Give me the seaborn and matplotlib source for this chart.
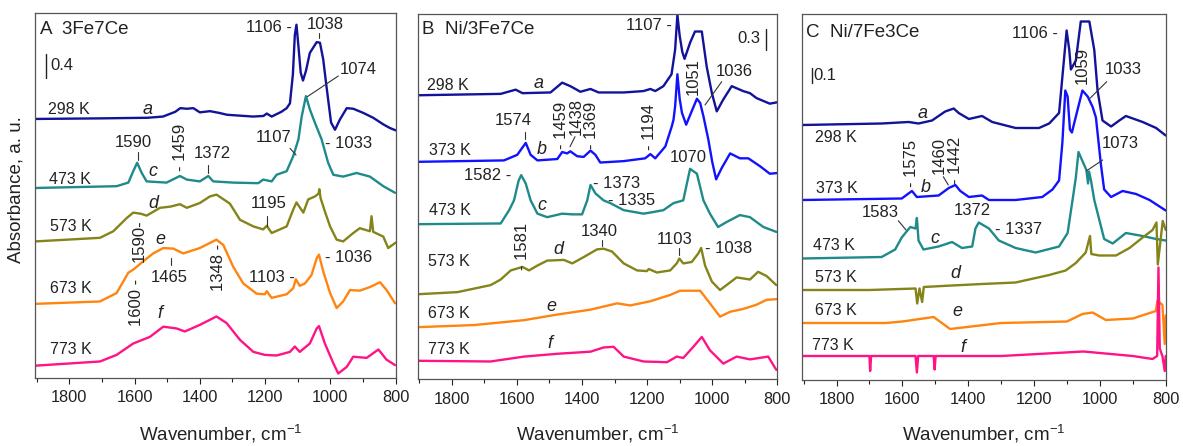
import numpy as np
import pandas as pd
import matplotlib
matplotlib.use("Agg")
import matplotlib.pyplot as plt
import seaborn as sns
from matplotlib.lines import Line2D
from matplotlib.ticker import MultipleLocator

# ---------------- data (absorbance relative to each curve's own baseline) -------------
# Panel A: 3Fe7Ce
A_a_wn = [1905, 1700, 1560, 1513, 1475, 1460, 1440, 1420, 1400, 1369, 1340, 1317, 1237, 1205, 1195, 1180, 1150, 1134, 1124, 1115, 1109, 1104, 1097, 1091, 1084, 1075, 1063, 1042, 1032, 1022, 1012, 998, 986, 971, 950, 930, 899, 869, 838, 818, 800]
A_a_abs = [0, 0.01, 0.02, 0.04, 0.12, 0.18, 0.17, 0.18, 0.11, 0.13, 0.10, 0.07, 0.04, 0.05, 0.09, 0.04, 0.12, 0.18, 0.26, 0.74, 1.40, 1.57, 1.15, 0.77, 0.64, 0.80, 1.10, 1.28, 1.27, 0.99, 0.54, -0.06, -0.18, -0.01, 0.18, 0.17, 0.10, 0.02, -0.09, -0.15, -0.19]
A_c_wn = [1905, 1655, 1619, 1604, 1592, 1578, 1563, 1502, 1461, 1440, 1400, 1374, 1359, 1298, 1221, 1206, 1180, 1165, 1134, 1114, 1098, 1088, 1075, 1063, 1047, 1027, 1007, 991, 961, 920, 879, 838, 802]
A_c_abs = [0, 0.03, 0.09, 0.28, 0.42, 0.25, 0.11, 0.09, 0.20, 0.14, 0.11, 0.20, 0.11, 0.09, 0.08, 0.14, 0.11, 0.22, 0.28, 0.53, 0.81, 1.19, 1.53, 1.31, 1.08, 0.81, 0.42, 0.22, 0.19, 0.25, 0.19, 0.03, -0.08]
A_d_wn = [1905, 1706, 1665, 1624, 1604, 1580, 1563, 1522, 1490, 1461, 1440, 1400, 1369, 1349, 1308, 1277, 1236, 1206, 1195, 1180, 1134, 1114, 1104, 1083, 1068, 1047, 1036, 1034, 1030, 1017, 1001, 981, 961, 930, 910, 879, 874, 869, 838, 823, 800]
A_d_abs = [0, 0.06, 0.17, 0.39, 0.48, 0.46, 0.43, 0.56, 0.58, 0.62, 0.56, 0.64, 0.75, 0.78, 0.63, 0.36, 0.25, 0.20, 0.26, 0.14, 0.25, 0.53, 0.65, 0.48, 0.70, 0.75, 0.80, 0.87, 0.72, 0.50, 0.25, 0.03, 0.0, 0.14, 0.22, 0.17, 0.42, 0.16, 0.08, -0.11, -0.02]
A_e_wn = [1905, 1706, 1655, 1619, 1604, 1573, 1543, 1512, 1481, 1451, 1400, 1349, 1328, 1298, 1267, 1226, 1201, 1195, 1180, 1134, 1114, 1106, 1094, 1078, 1058, 1042, 1035, 1022, 1001, 981, 961, 940, 910, 879, 848, 828, 802]
A_e_abs = [0, 0.04, 0.18, 0.52, 0.57, 0.71, 0.84, 0.93, 0.92, 0.84, 0.93, 1.07, 0.98, 0.62, 0.34, 0.17, 0.16, 0.21, 0.10, 0.16, 0.26, 0.41, 0.30, 0.34, 0.48, 0.76, 0.82, 0.54, 0.18, -0.07, 0.04, 0.23, 0.22, 0.28, 0.36, 0.23, 0.01]
A_f_wn = [1905, 1706, 1655, 1604, 1553, 1512, 1471, 1446, 1400, 1349, 1318, 1277, 1236, 1201, 1165, 1124, 1109, 1094, 1063, 1042, 1035, 1017, 991, 976, 950, 930, 889, 853, 828, 802]
A_f_abs = [0, 0.07, 0.18, 0.37, 0.48, 0.65, 0.62, 0.57, 0.68, 0.82, 0.71, 0.43, 0.23, 0.18, 0.17, 0.23, 0.32, 0.23, 0.37, 0.62, 0.66, 0.37, 0.04, -0.13, -0.02, 0.15, 0.13, 0.27, 0.10, 0.01]
A_offsets = [4.31, 3.16, 2.27, 1.23, 0.20]

# Panel B: Ni/3Fe7Ce
B_a_wn = [1905, 1650, 1604, 1583, 1497, 1461, 1436, 1405, 1374, 1349, 1272, 1211, 1190, 1175, 1150, 1125, 1114, 1107, 1100, 1092, 1085, 1068, 1053, 1032, 1017, 1001, 986, 966, 940, 905, 884, 864, 823, 800]
B_a_abs = [0, 0.02, 0.08, 0.03, 0.04, 0.18, 0.13, 0.05, 0.09, 0.04, 0.04, 0.06, 0.09, 0.06, 0.13, 0.30, 0.65, 1.15, 0.85, 0.62, 0.52, 0.75, 0.91, 0.91, 0.41, 0.03, -0.23, -0.06, 0.13, 0.06, 0.03, -0.04, -0.12, -0.10]
B_b_wn = [1905, 1640, 1599, 1573, 1558, 1537, 1476, 1461, 1446, 1436, 1415, 1395, 1374, 1359, 1344, 1272, 1206, 1190, 1175, 1144, 1124, 1119, 1114, 1107, 1100, 1093, 1080, 1065, 1047, 1037, 1027, 1012, 1000, 988, 971, 945, 915, 889, 854, 823, 800]
B_b_abs = [0, 0.02, 0.10, 0.27, 0.10, 0.02, 0.04, 0.14, 0.12, 0.15, 0.08, 0.07, 0.16, 0.10, -0.01, 0.01, 0.05, 0.11, 0.05, 0.22, 0.51, 0.60, 0.79, 1.25, 0.90, 0.70, 0.53, 0.70, 0.90, 0.84, 0.65, 0.32, 0.0, -0.25, -0.09, 0.12, 0.05, 0.05, -0.06, -0.17, -0.16]
B_c_wn = [1905, 1650, 1624, 1609, 1595, 1587, 1573, 1558, 1537, 1507, 1461, 1430, 1400, 1384, 1374, 1359, 1334, 1313, 1272, 1211, 1185, 1150, 1119, 1089, 1068, 1047, 1027, 1007, 982, 956, 915, 884, 843, 803]
B_c_abs = [0, 0.01, 0.20, 0.34, 0.62, 0.70, 0.58, 0.34, 0.15, 0.10, 0.15, 0.14, 0.14, 0.34, 0.56, 0.44, 0.34, 0.30, 0.20, 0.15, 0.17, 0.20, 0.30, 0.34, 0.79, 0.72, 0.34, 0.15, -0.04, 0.03, 0.13, 0.10, -0.04, -0.11]
B_d_wn = [1905, 1783, 1681, 1650, 1619, 1583, 1563, 1537, 1507, 1456, 1430, 1395, 1354, 1334, 1308, 1272, 1231, 1201, 1195, 1170, 1129, 1109, 1101, 1089, 1063, 1043, 1034, 1022, 1001, 976, 956, 925, 884, 859, 833, 803]
B_d_abs = [0, 0.03, 0.13, 0.21, 0.34, 0.39, 0.34, 0.41, 0.48, 0.49, 0.44, 0.53, 0.64, 0.65, 0.61, 0.44, 0.34, 0.33, 0.36, 0.31, 0.34, 0.44, 0.51, 0.44, 0.46, 0.58, 0.66, 0.41, 0.18, 0.06, 0.13, 0.24, 0.21, 0.32, 0.26, 0.13]
B_e_wn = [1905, 1732, 1578, 1476, 1374, 1292, 1252, 1190, 1129, 1099, 1037, 1007, 976, 945, 905, 864, 833, 800]
B_e_abs = [0, 0.03, 0.10, 0.18, 0.25, 0.34, 0.31, 0.37, 0.46, 0.52, 0.52, 0.34, 0.15, 0.22, 0.26, 0.32, 0.39, 0.40]
B_f_wn = [1905, 1681, 1578, 1476, 1374, 1334, 1303, 1272, 1211, 1139, 1109, 1089, 1058, 1032, 1007, 966, 925, 884, 828, 803]
B_f_abs = [0, -0.01, 0.06, 0.10, 0.13, 0.19, 0.20, 0.06, -0.01, -0.02, 0.06, 0.04, 0.20, 0.34, 0.15, -0.04, 0.06, 0.02, 0.06, -0.13]
B_offsets = [4.05, 3.10, 2.21, 1.21, 0.74, 0.26]

# Panel C: Ni/7Fe3Ce
C_a_wn = [1905, 1663, 1581, 1551, 1510, 1470, 1444, 1429, 1398, 1358, 1327, 1256, 1185, 1154, 1124, 1111, 1101, 1093, 1088, 1073, 1058, 1032, 1017, 1007, 992, 966, 941, 921, 870, 829, 800]
C_a_abs = [0, 0.01, 0.02, 0.01, 0.03, 0.09, 0.11, 0.08, 0.04, 0.06, 0.02, -0.02, -0.02, 0.01, 0.08, 0.39, 0.63, 0.50, 0.37, 0.43, 0.69, 0.69, 0.50, 0.23, 0.03, -0.01, 0.03, 0.06, 0.02, -0.02, -0.07]
C_b_wn = [1905, 1602, 1571, 1556, 1490, 1459, 1439, 1424, 1398, 1358, 1337, 1256, 1175, 1144, 1124, 1114, 1105, 1098, 1091, 1085, 1068, 1053, 1037, 1022, 1012, 997, 987, 966, 931, 890, 849, 800]
C_b_abs = [0, 0.01, 0.06, 0.02, 0.03, 0.08, 0.10, 0.06, 0.02, 0.03, 0.0, 0.0, 0.02, 0.07, 0.13, 0.38, 0.73, 0.69, 0.47, 0.45, 0.60, 0.73, 0.69, 0.62, 0.55, 0.24, 0.07, 0.02, 0.06, 0.04, 0.0, -0.07]
C_c_wn = [1905, 1663, 1622, 1602, 1576, 1560, 1556, 1551, 1536, 1490, 1449, 1419, 1388, 1378, 1368, 1337, 1307, 1256, 1195, 1124, 1098, 1083, 1073, 1065, 1053, 1041, 1036, 1033, 1027, 1017, 1002, 987, 961, 921, 870, 829, 800]
C_c_abs = [0, 0.01, 0.06, 0.14, 0.21, 0.20, 0.27, 0.12, 0.06, 0.08, 0.11, 0.07, 0.08, 0.20, 0.24, 0.20, 0.12, 0.07, 0.04, 0.08, 0.17, 0.39, 0.54, 0.71, 0.65, 0.59, 0.50, 0.58, 0.52, 0.39, 0.26, 0.13, 0.10, 0.17, 0.15, 0.13, 0.12]
C_d_wn = [1905, 1700, 1560, 1555, 1548, 1540, 1535, 1450, 1358, 1256, 1154, 1104, 1073, 1043, 1030, 1026, 1002, 951, 910, 870, 840, 828, 824, 809, 800]
C_d_abs = [0, 0.0, 0.01, -0.09, 0.01, -0.08, 0.02, 0.03, 0.04, 0.05, 0.10, 0.13, 0.18, 0.25, 0.36, 0.24, 0.23, 0.23, 0.28, 0.35, 0.40, 0.45, 0.17, 0.46, 0.40]
C_e_wn = [1905, 1650, 1600, 1505, 1455, 1300, 1100, 1053, 1022, 982, 900, 830, 825, 810, 803, 800]
C_e_abs = [0, 0.0, 0.01, 0.04, -0.04, 0.0, 0.01, 0.06, 0.07, 0.02, 0.03, 0.08, 0.15, 0.12, -0.14, 0.05]
C_f_wn = [1905, 1700, 1698, 1695, 1560, 1556, 1552, 1505, 1502, 1499, 1300, 1050, 1000, 900, 840, 826, 822, 818, 810, 803, 800]
C_f_abs = [0, 0, -0.10, 0, 0, -0.11, 0, 0, -0.09, 0, 0, 0.03, 0.02, 0.0, -0.02, 0.0, 0.59, 0.05, 0.0, -0.10, 0.0]
C_offsets = [1.70, 1.20, 0.81, 0.60, 0.38, 0.16]

temps_A = ["298 K", "473 K", "573 K", "673 K", "773 K"]
temps_BC = ["298 K", "373 K", "473 K", "573 K", "673 K", "773 K"]
xticks = [1800, 1600, 1400, 1200, 1000, 800]

COL = {"a": "#12129a", "b": "#1212ff", "c": "#1f8a8a", "d": "#84841a",
       "e": "#ff8410", "f": "#ff1486"}

# ---------------- figure ----------------
sns.set_theme(style="ticks")
plt.rcParams["font.family"] = ["Liberation Sans", "DejaVu Sans"]
plt.rcParams["mathtext.fontset"] = "custom"
plt.rcParams["mathtext.rm"] = "Liberation Sans"
plt.rcParams["mathtext.it"] = "Liberation Sans:italic"

W, H = 1183, 446
fig = plt.figure(figsize=(W / 100, H / 100), dpi=100)
TXT = "#222222"
FS_ANN = 12
FS_T = 11.5

def rect(l, r, t, b):
    return [l / W, 1 - b / H, (r - l) / W, (b - t) / H]

def T(px, py, s, size=FS_ANN, ha="center", va="center", **kw):
    fig.text(px / W, 1 - py / H, s, fontsize=size, ha=ha, va=va, color=TXT, **kw)

def L(x0, y0, x1, y1, lw=0.8):
    fig.add_artist(Line2D([x0 / W, x1 / W], [1 - y0 / H, 1 - y1 / H],
                          transform=fig.transFigure, color="#333333", lw=lw))

panels = [
    (rect(35, 395.7, 13.3, 377.7), 6.07,
     [("a", A_a_wn, A_a_abs), ("c", A_c_wn, A_c_abs), ("d", A_d_wn, A_d_abs),
      ("e", A_e_wn, A_e_abs), ("f", A_f_wn, A_f_abs)], A_offsets),
    (rect(417.7, 777.3, 14, 379), 5.21,
     [("a", B_a_wn, B_a_abs), ("b", B_b_wn, B_b_abs), ("c", B_c_wn, B_c_abs),
      ("d", B_d_wn, B_d_abs), ("e", B_e_wn, B_e_abs), ("f", B_f_wn, B_f_abs)], B_offsets),
    (rect(802, 1165.7, 14, 380), 2.44,
     [("a", C_a_wn, C_a_abs), ("b", C_b_wn, C_b_abs), ("c", C_c_wn, C_c_abs),
      ("d", C_d_wn, C_d_abs), ("e", C_e_wn, C_e_abs), ("f", C_f_wn, C_f_abs)], C_offsets),
]

axes = []
for r, ytop, curves, offs in panels:
    ax = fig.add_axes(r)
    for (key, wn, ab), off in zip(curves, offs):
        df = pd.DataFrame({"wn": wn, "y": np.asarray(ab) + off})
        sns.lineplot(data=df, x="wn", y="y", ax=ax, color=COL[key], lw=1.7,
                     sort=False, estimator=None)
    ax.set_xlim(1905, 800)
    ax.set_ylim(0, ytop)
    ax.set_xticks(xticks)
    ax.xaxis.set_minor_locator(MultipleLocator(100))
    ax.set_yticks([])
    ax.set_ylabel("")
    ax.set_xlabel(r"Wavenumber, cm$^{-1}$", fontsize=13.5, color=TXT)
    ax.xaxis.label.set_va("center")
    ax.tick_params(axis="x", which="major", direction="out", length=4, width=0.8,
                   pad=5, labelsize=11.8, colors="#222222", bottom=True, top=False)
    ax.tick_params(axis="x", which="minor", direction="out", length=3, width=0.8,
                   bottom=True, top=False, color="#222222")
    for s in ax.spines.values():
        s.set_color("#555555")
        s.set_linewidth(0.9)
    axes.append(ax)

axA, axB, axC = axes
axA.xaxis.set_label_coords(0.515, -0.155)
axB.xaxis.set_label_coords(0.5, -0.151)
axC.xaxis.set_label_coords(0.5, -0.148)

# scale bars (data units)
axA.plot([1872, 1872], [5.0, 5.0 + 0.4], color="#222222", lw=1.0)
axB.plot([835, 835], [4.69, 4.69 + 0.3], color="#222222", lw=1.0)
axC.plot([1874, 1874], [1.98, 1.98 + 0.1], color="#222222", lw=1.0)
T(50, 65, "0.4", ha="left")
T(760, 38.3, "0.3", ha="right")
T(813.5, 75.8, "0.1", ha="left")

# y label
T(16.5, 190, "Absorbance, a. u.", size=13.5, rotation=90)

# panel titles
T(40, 29.5, "A  3Fe7Ce", size=13.5, ha="left")
T(421.7, 30, "B  Ni/3Fe7Ce", size=13.5, ha="left")
T(806, 32.5, "C  Ni/7Fe3Ce", size=13.5, ha="left")

# temperature labels and curve letters
for (px, py), t in zip([(48, 109), (49.3, 179), (50, 226.7), (50, 288.5), (50, 350)], temps_A):
    T(px, py, t, size=FS_T, ha="left")
for (px, py), k in zip([(147.5, 109), (153.3, 171.7), (153.8, 203.3), (160, 240), (160, 313)], "acdef"):
    T(px, py, k, size=13, style="italic")

for (px, py), t in zip([(426.7, 85.3), (429.3, 150.8), (429.3, 211), (428.3, 261.7), (428.3, 313.7), (428.3, 350)], temps_BC):
    T(px, py, t, size=FS_T, ha="left")
for (px, py), k in zip([(538.3, 83.3), (542, 149), (542, 205), (558.3, 250), (551.7, 306.7), (550, 344)], "abcdef"):
    T(px, py, k, size=13, style="italic")

for (px, py), t in zip([(815, 137.5), (816, 188.3), (813.3, 245), (815, 277.5), (815, 310.8), (811.7, 345)], temps_BC):
    T(px, py, t, size=FS_T, ha="left")
for (px, py), k in zip([(922.5, 113.3), (926, 187.5), (935.3, 238.3), (955, 273.7), (957.7, 312), (963.3, 347.5)], "abcdef"):
    T(px, py, k, size=13, style="italic")

# ---------- peak annotations: panel A ----------
T(291.7, 27, "1106 -", ha="right")
T(325.3, 24.5, "1038"); L(318.7, 32.7, 318.7, 38.3)
T(358.3, 69.7, "1074"); L(338.3, 76, 307.3, 96.7)
T(274, 137.5, "1107"); L(290, 148.3, 296, 155)
T(325, 143.7, "- 1033", ha="left")
T(133.3, 143, "1590"); L(138.3, 151.7, 138.3, 160)
T(180.8, 147, "- 1459", rotation=90)
T(212.5, 153, "1372"); L(208.3, 165, 208.3, 173.3)
T(268.3, 203.3, "1195"); L(266.7, 216, 266.7, 226)
T(139.3, 240.7, "1590-", rotation=90)
T(169, 277.5, "1465"); L(170.7, 258, 170.7, 265)
T(218.3, 267.5, "1348 -", rotation=90)
T(136.7, 302, "1600 -", rotation=90)
T(295, 277.5, "1103 -", ha="right")
T(325, 257.5, "- 1036", ha="left")

# ---------- panel B ----------
T(671.7, 26, "1107 -", ha="right")
T(693.3, 76.7, "1051", rotation=90)
T(734, 71.7, "1036"); L(721.7, 81.7, 705, 105)
T(513.3, 120.8, "1574"); L(525, 131.7, 525, 139.3)
T(562, 125, "- 1459", rotation=90)
T(575.8, 116.7, "1438", rotation=90); L(575, 136.7, 570, 146.7)
T(591.7, 125, "- 1369", rotation=90)
T(650, 126.7, "- 1194", rotation=90)
T(511.7, 175.5, "1582 -", ha="right")
T(593.3, 183.3, "- 1373", ha="left")
T(608.3, 200.8, "- 1335", ha="left")
T(688.3, 157.5, "1070")
T(522.7, 246.7, "- 1581", rotation=90)
T(599.2, 231.7, "1340"); L(601.7, 240, 601.7, 246)
T(674.2, 240, "1103"); L(678.7, 248.3, 678.7, 255)
T(705, 249, "- 1038", ha="left")

# ---------- panel C ----------
T(1058.3, 33, "1106 -", ha="right")
T(1082.5, 65, "1059", rotation=90)
T(1123.3, 70, "1033"); L(1106.7, 81.7, 1090, 98.3)
T(911.7, 163.3, "- 1575", rotation=90)
T(939.2, 155.8, "1460", rotation=90); L(943.3, 176.7, 948.3, 185)
T(956, 160, "- 1442", rotation=90)
T(1120, 143.3, "1073"); L(1102.7, 160, 1086.7, 170.7)
T(880, 212.5, "1583"); L(898.3, 220.7, 906, 230)
T(972.5, 211, "1372")
T(995, 229, "- 1337", ha="left")

fig.savefig("out.png", dpi=100)
